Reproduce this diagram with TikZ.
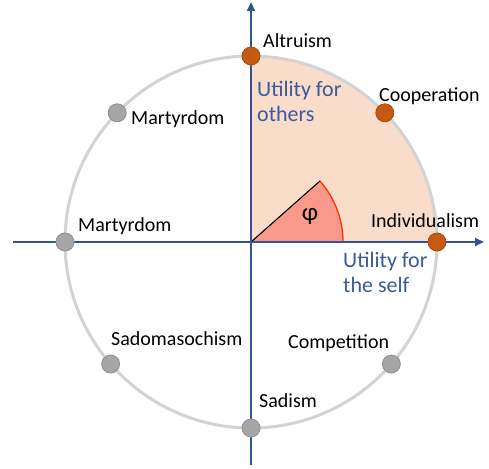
\documentclass[tikz,border=0pt]{standalone}
\usepackage{fontspec}
\setmainfont{Carlito}
\usetikzlibrary{arrows.meta,positioning}
\definecolor{axisBlue}{HTML}{2F5597}
\definecolor{txtBlue}{HTML}{3B5A9A}
\definecolor{ringGray}{HTML}{D3D3D3}
\definecolor{dotGray}{HTML}{A6A6A6}
\definecolor{dotGrayEdge}{HTML}{8E8E8E}
\definecolor{dotOrange}{HTML}{C55A11}
\definecolor{dotOrangeEdge}{HTML}{A94A0C}
\definecolor{sectorFill}{HTML}{F9DCCA}
\definecolor{phiFill}{HTML}{F8998B}
\definecolor{phiEdge}{HTML}{FF3300}
\tikzset{
    axis/.style={line width=2.4pt, axisBlue, -{Triangle[length=9pt,width=8pt]}},
    ring/.style={line width=3pt, ringGray},
    gdot/.style={circle, draw=dotGrayEdge, line width=0.8pt, fill=dotGray, inner sep=0pt, minimum size=18pt},
    odot/.style={circle, draw=dotOrangeEdge, line width=0.8pt, fill=dotOrange, inner sep=0pt, minimum size=18pt},
    lbl/.style={anchor=base west, inner sep=0pt, font=\fontsize{20}{24}\selectfont},
    axlbl/.style={anchor=base west, inner sep=0pt, align=left, text=txtBlue, font=\fontsize{22}{25}\selectfont}
}
\begin{document}
\begin{tikzpicture}[x=1pt,y=1pt]
\useasboundingbox (-251,-226) rectangle (238,242);
\coordinate (O) at (0,0);
\coordinate (xl) at (-238,0);
\coordinate (xr) at (233,0);
\coordinate (yb) at (0,-223);
\coordinate (yt) at (0,240);
\coordinate (phiTip) at (41.5:92);

\fill[sectorFill] (O) -- (0:186) arc[start angle=0,end angle=90,radius=186] -- cycle;
\fill[phiFill] (O) -- (0:92) arc[start angle=0,end angle=41.5,radius=92] -- cycle;
\draw[phiEdge, line width=1.3pt] (0:92) arc[start angle=0,end angle=41.5,radius=92];
\draw[black, line width=1.1pt] (O) -- (phiTip);
\node (phi) at (59,26) {\fontsize{25}{26}\selectfont φ};

\draw[ring] (O) circle[radius=186];
\draw[axis] (xl) -- (xr);
\draw[axis] (yb) -- (yt);

\node[odot] (altruism) at (90:186) {};
\node[odot] (cooperation) at (44:186) {};
\node[odot] (individualism) at (0:186) {};
\node[gdot] (martyrdomA) at (136:186) {};
\node[gdot] (martyrdomB) at (180:186) {};
\node[gdot] (sadomasochism) at (221:186) {};
\node[gdot] (sadism) at (270:186) {};
\node[gdot] (competition) at (319:186) {};

\node[lbl] (altruismL) at (12,194) {Altruism};
\node[lbl] (cooperationL) at (128,140) {Cooperation};
\node[lbl] (individualismL) at (120,14) {Individualism};
\node[lbl] (martyrdomAL) at (-120,117) {Martyrdom};
\node[lbl] (martyrdomBL) at (-173,10) {Martyrdom};
\node[lbl] (sadomasochismL) at (-140,-103) {Sadomasochism};
\node[lbl] (competitionL) at (37,-106) {Competition};
\node[lbl] (sadismL) at (8,-165) {Sadism};

\node[axlbl] (othersL) at (6,120) {Utility for\\others};
\node[axlbl] (selfL) at (92,-50) {Utility for\\the self};
\end{tikzpicture}
\end{document}
